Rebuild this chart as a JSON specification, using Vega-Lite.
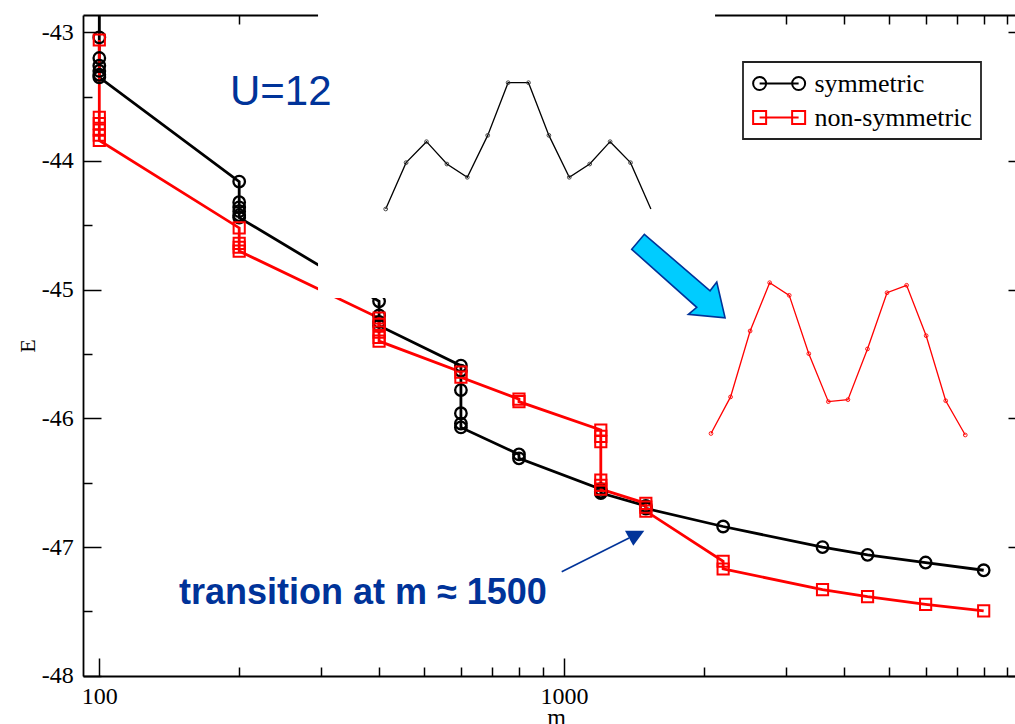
{
  "$schema": "https://vega.github.io/schema/vega-lite/v6.json",
  "autosize": {"type": "none"},
  "padding": {"left": 83, "top": 15, "right": 0, "bottom": 48},
  "width": 932,
  "height": 661,
  "background": "white",
  "config": {
    "view": {"stroke": null},
    "axis": {"grid": false, "zindex": 0, "labelFont": "Liberation Serif", "titleFont": "Liberation Serif", "labelColor": "black", "titleColor": "black", "domainColor": "black", "tickColor": "black", "domainWidth": 1.8, "tickWidth": 1.5, "labelFontSize": 24, "titleFontSize": 24, "titleFontWeight": "normal", "labelFlush": false, "labelOverlap": false},
    "legend": {"strokeWidth": 1.8}
  },
  "datasets": {
    "main": [
      {"series": "symmetric", "m": 100, "E": -42.5, "k": 1},
      {"series": "symmetric", "m": 100, "E": -43.04, "k": 2},
      {"series": "symmetric", "m": 100, "E": -43.2, "k": 3},
      {"series": "symmetric", "m": 100, "E": -43.26, "k": 4},
      {"series": "symmetric", "m": 100, "E": -43.3, "k": 5},
      {"series": "symmetric", "m": 100, "E": -43.33, "k": 6},
      {"series": "symmetric", "m": 100, "E": -43.35, "k": 7},
      {"series": "symmetric", "m": 200, "E": -44.16, "k": 8},
      {"series": "symmetric", "m": 200, "E": -44.32, "k": 9},
      {"series": "symmetric", "m": 200, "E": -44.36, "k": 10},
      {"series": "symmetric", "m": 200, "E": -44.39, "k": 11},
      {"series": "symmetric", "m": 200, "E": -44.42, "k": 12},
      {"series": "symmetric", "m": 200, "E": -44.44, "k": 13},
      {"series": "symmetric", "m": 400, "E": -45.09, "k": 14},
      {"series": "symmetric", "m": 400, "E": -45.2, "k": 15},
      {"series": "symmetric", "m": 400, "E": -45.25, "k": 16},
      {"series": "symmetric", "m": 400, "E": -45.28, "k": 17},
      {"series": "symmetric", "m": 600, "E": -45.59, "k": 18},
      {"series": "symmetric", "m": 600, "E": -45.63, "k": 19},
      {"series": "symmetric", "m": 600, "E": -45.78, "k": 20},
      {"series": "symmetric", "m": 600, "E": -45.96, "k": 21},
      {"series": "symmetric", "m": 600, "E": -46.04, "k": 22},
      {"series": "symmetric", "m": 600, "E": -46.07, "k": 23},
      {"series": "symmetric", "m": 800, "E": -46.28, "k": 24},
      {"series": "symmetric", "m": 800, "E": -46.31, "k": 25},
      {"series": "symmetric", "m": 1200, "E": -46.55, "k": 26},
      {"series": "symmetric", "m": 1200, "E": -46.57, "k": 27},
      {"series": "symmetric", "m": 1200, "E": -46.58, "k": 28},
      {"series": "symmetric", "m": 1500, "E": -46.68, "k": 29},
      {"series": "symmetric", "m": 1500, "E": -46.7, "k": 30},
      {"series": "symmetric", "m": 2200, "E": -46.84, "k": 31},
      {"series": "symmetric", "m": 3600, "E": -47.0, "k": 32},
      {"series": "symmetric", "m": 4500, "E": -47.06, "k": 33},
      {"series": "symmetric", "m": 6000, "E": -47.12, "k": 34},
      {"series": "symmetric", "m": 8000, "E": -47.18, "k": 35},
      {"series": "non-symmetric", "m": 100, "E": -43.06, "k": 1},
      {"series": "non-symmetric", "m": 100, "E": -43.66, "k": 2},
      {"series": "non-symmetric", "m": 100, "E": -43.71, "k": 3},
      {"series": "non-symmetric", "m": 100, "E": -43.76, "k": 4},
      {"series": "non-symmetric", "m": 100, "E": -43.8, "k": 5},
      {"series": "non-symmetric", "m": 100, "E": -43.84, "k": 6},
      {"series": "non-symmetric", "m": 200, "E": -44.52, "k": 7},
      {"series": "non-symmetric", "m": 200, "E": -44.64, "k": 8},
      {"series": "non-symmetric", "m": 200, "E": -44.67, "k": 9},
      {"series": "non-symmetric", "m": 200, "E": -44.7, "k": 10},
      {"series": "non-symmetric", "m": 400, "E": -45.22, "k": 11},
      {"series": "non-symmetric", "m": 400, "E": -45.27, "k": 12},
      {"series": "non-symmetric", "m": 400, "E": -45.33, "k": 13},
      {"series": "non-symmetric", "m": 400, "E": -45.37, "k": 14},
      {"series": "non-symmetric", "m": 400, "E": -45.4, "k": 15},
      {"series": "non-symmetric", "m": 600, "E": -45.64, "k": 16},
      {"series": "non-symmetric", "m": 600, "E": -45.68, "k": 17},
      {"series": "non-symmetric", "m": 800, "E": -45.85, "k": 18},
      {"series": "non-symmetric", "m": 800, "E": -45.87, "k": 19},
      {"series": "non-symmetric", "m": 1200, "E": -46.09, "k": 20},
      {"series": "non-symmetric", "m": 1200, "E": -46.14, "k": 21},
      {"series": "non-symmetric", "m": 1200, "E": -46.18, "k": 22},
      {"series": "non-symmetric", "m": 1200, "E": -46.48, "k": 23},
      {"series": "non-symmetric", "m": 1200, "E": -46.52, "k": 24},
      {"series": "non-symmetric", "m": 1200, "E": -46.55, "k": 25},
      {"series": "non-symmetric", "m": 1500, "E": -46.66, "k": 26},
      {"series": "non-symmetric", "m": 1500, "E": -46.69, "k": 27},
      {"series": "non-symmetric", "m": 1500, "E": -46.72, "k": 28},
      {"series": "non-symmetric", "m": 2200, "E": -47.11, "k": 29},
      {"series": "non-symmetric", "m": 2200, "E": -47.17, "k": 30},
      {"series": "non-symmetric", "m": 3600, "E": -47.33, "k": 31},
      {"series": "non-symmetric", "m": 4500, "E": -47.385, "k": 32},
      {"series": "non-symmetric", "m": 6000, "E": -47.445, "k": 33},
      {"series": "non-symmetric", "m": 8000, "E": -47.495, "k": 34}
    ],
    "insetSym": [
      {"i": 1, "v": 0}, {"i": 2, "v": 0.367}, {"i": 3, "v": 0.533}, {"i": 4, "v": 0.356},
      {"i": 5, "v": 0.251}, {"i": 6, "v": 0.583}, {"i": 7, "v": 1.0}, {"i": 8, "v": 1.0},
      {"i": 9, "v": 0.583}, {"i": 10, "v": 0.251}, {"i": 11, "v": 0.356}, {"i": 12, "v": 0.533},
      {"i": 13, "v": 0.367}, {"i": 14, "v": 0}
    ],
    "insetNon": [
      {"i": 1, "v": 0.01}, {"i": 2, "v": 0.25}, {"i": 3, "v": 0.683}, {"i": 4, "v": 1.0},
      {"i": 5, "v": 0.917}, {"i": 6, "v": 0.534}, {"i": 7, "v": 0.219}, {"i": 8, "v": 0.232},
      {"i": 9, "v": 0.565}, {"i": 10, "v": 0.934}, {"i": 11, "v": 0.983}, {"i": 12, "v": 0.652},
      {"i": 13, "v": 0.225}, {"i": 14, "v": 0}
    ],
    "patch": [{"m1": 295.6, "m2": 2113.6, "E1": -45.065, "E2": -42.85}],
    "labelU": [{"m": 191.1, "E": -43.565, "text": "U=12"}],
    "labelT": [{"m": 148.4, "E": -47.442, "text": "transition at m ≈ 1500"}],
    "pointer": [{"m": 988.7, "E": -47.191, "m2": 1380.3, "E2": -46.929}],
    "pointerHead": [{"m": 1415.8, "E": -46.911}],
    "bigArrow": [{"m": 1759.7, "E": -44.925}]
  },
  "layer": [
    {
      "resolve": {"axis": {"x": "independent", "y": "independent"}},
      "layer": [
        {
          "data": {"name": "main"},
          "transform": [{"filter": "datum.series == 'symmetric'"}],
          "mark": {"type": "line", "strokeWidth": 2.8, "color": "#000000", "clip": true},
          "encoding": {
            "x": {"field": "m", "type": "quantitative",
                  "scale": {"type": "log", "domain": [92.24, 9343], "nice": false},
                  "axis": {"orient": "bottom", "values": [100, 1000], "tickSize": -18, "labelPadding": 26, "labelExpr": "'' + datum.value", "title": "m", "titleX": 473, "titleY": 48, "titleBaseline": "alphabetic", "titleAlign": "center"}},
            "y": {"field": "E", "type": "quantitative",
                  "scale": {"domain": [-48.0016, -42.8656], "nice": false, "zero": false},
                  "axis": {"orient": "left", "values": [-48, -47, -46, -45, -44, -43], "tickSize": -18, "labelPadding": 27.7, "labelBaseline": "middle", "labelExpr": "'-' + abs(datum.value)", "title": "E", "titleX": -56, "titleY": 330.5, "titleAngle": -90, "titleBaseline": "middle", "titleAlign": "center", "titleFontSize": 22}},
            "order": {"field": "k", "type": "quantitative"}
          }
        },
        {
          "data": {"name": "main"},
          "transform": [{"filter": "datum.series == 'non-symmetric'"}],
          "mark": {"type": "line", "strokeWidth": 2.8, "color": "#ff0000", "clip": true},
          "encoding": {
            "x": {"field": "m", "type": "quantitative", "axis": null},
            "y": {"field": "E", "type": "quantitative", "axis": null},
            "order": {"field": "k", "type": "quantitative"}
          }
        },
        {
          "data": {"name": "main"},
          "transform": [{"filter": "datum.series == 'symmetric'"}],
          "mark": {"type": "point", "shape": "circle", "size": 133, "filled": false, "color": "#000000", "strokeWidth": 2.3, "opacity": 1, "clip": true},
          "encoding": {
            "x": {"field": "m", "type": "quantitative",
                  "axis": {"orient": "top", "values": [100, 1000], "tickSize": -18, "labels": false, "title": null}},
            "y": {"field": "E", "type": "quantitative",
                  "axis": {"orient": "right", "values": [-48, -47, -46, -45, -44, -43], "tickSize": -7, "labels": false, "domain": false, "title": null}}
          }
        },
        {
          "data": {"name": "main"},
          "transform": [{"filter": "datum.series == 'non-symmetric'"}],
          "mark": {"type": "point", "shape": "square", "size": 125, "filled": false, "color": "#ff0000", "strokeWidth": 2, "opacity": 1, "clip": true},
          "encoding": {
            "x": {"field": "m", "type": "quantitative",
                  "axis": {"orient": "bottom", "values": [200, 300, 400, 500, 600, 700, 800, 900, 2000, 3000, 4000, 5000, 6000, 7000, 8000, 9000], "tickSize": -9, "labels": false, "domain": false, "title": null}},
            "y": {"field": "E", "type": "quantitative",
                  "axis": {"orient": "left", "values": [-47.5, -46.5, -45.5, -44.5, -43.5], "tickSize": -9, "labels": false, "domain": false, "title": null}}
          }
        },
        {
          "data": {"name": "main"},
          "mark": {"type": "point", "filled": false, "opacity": 0, "strokeWidth": 2, "size": 169},
          "encoding": {
            "x": {"field": "m", "type": "quantitative",
                  "axis": {"orient": "top", "values": [200, 300, 400, 500, 600, 700, 800, 900, 2000, 3000, 4000, 5000, 6000, 7000, 8000, 9000], "tickSize": -9, "labels": false, "domain": false, "title": null}},
            "y": {"field": "E", "type": "quantitative", "axis": null},
            "color": {"field": "series", "type": "nominal",
                      "scale": {"domain": ["symmetric", "non-symmetric"], "range": ["#000000", "#ff0000"]},
                      "legend": {"title": null, "orient": "none", "legendX": 660, "legendY": 47, "padding": 8.5, "strokeColor": "#222222", "fillColor": "white", "labelFont": "Liberation Serif", "labelFontSize": 26, "labelColor": "black", "labelOffset": 37, "labelLimit": 400, "symbolSize": 169, "symbolStrokeWidth": 2, "rowPadding": 8}},
            "shape": {"field": "series", "type": "nominal",
                      "scale": {"domain": ["symmetric", "non-symmetric"],
                                "range": ["M-1.75,0A1,1,0,1,0,0.25,0A1,1,0,1,0,-1.75,0M-0.75,0L5.25,0M4.25,0A1,1,0,1,0,6.25,0A1,1,0,1,0,4.25,0",
                                          "M-1.75,-1L0.25,-1L0.25,1L-1.75,1ZM-0.75,0L5.25,0M4.25,-1L6.25,-1L6.25,1L4.25,1Z"]},
                      "legend": {"title": null, "orient": "none", "legendX": 660, "legendY": 47, "padding": 8.5, "strokeColor": "#222222", "fillColor": "white", "labelFont": "Liberation Serif", "labelFontSize": 26, "labelColor": "black", "labelOffset": 37, "labelLimit": 400, "symbolSize": 169, "symbolStrokeWidth": 2, "rowPadding": 8}}
          }
        },
        {
          "data": {"name": "patch"},
          "mark": {"type": "rect", "color": "white"},
          "encoding": {
            "x": {"field": "m1", "type": "quantitative", "axis": null},
            "x2": {"field": "m2"},
            "y": {"field": "E1", "type": "quantitative", "axis": null},
            "y2": {"field": "E2"}
          }
        },
        {
          "data": {"name": "labelU"},
          "mark": {"type": "text", "font": "Liberation Sans", "fontSize": 42, "color": "#003399", "align": "left", "baseline": "alphabetic"},
          "encoding": {
            "x": {"field": "m", "type": "quantitative", "axis": null},
            "y": {"field": "E", "type": "quantitative", "axis": null},
            "text": {"field": "text"}
          }
        },
        {
          "data": {"name": "labelT"},
          "mark": {"type": "text", "font": "Liberation Sans", "fontSize": 36, "fontWeight": "bold", "color": "#003399", "align": "left", "baseline": "alphabetic"},
          "encoding": {
            "x": {"field": "m", "type": "quantitative", "axis": null},
            "y": {"field": "E", "type": "quantitative", "axis": null},
            "text": {"field": "text"}
          }
        },
        {
          "data": {"name": "pointer"},
          "mark": {"type": "rule", "color": "#003399", "strokeWidth": 1.6},
          "encoding": {
            "x": {"field": "m", "type": "quantitative", "axis": null},
            "x2": {"field": "m2"},
            "y": {"field": "E", "type": "quantitative", "axis": null},
            "y2": {"field": "E2"}
          }
        },
        {
          "data": {"name": "pointerHead"},
          "mark": {"type": "point", "shape": "M-9.2,-5L10.1,-5L-0.9,10Z", "size": 4, "filled": true, "color": "#003399", "opacity": 1},
          "encoding": {
            "x": {"field": "m", "type": "quantitative", "axis": null},
            "y": {"field": "E", "type": "quantitative", "axis": null}
          }
        },
        {
          "data": {"name": "bigArrow"},
          "mark": {"type": "point", "shape": "M-46.3,-30.7L-33.7,-45.7L32,10.7L38.7,2L47,37.7L10.3,34.3L18.7,27.3Z", "size": 4, "filled": true, "fill": "#00ccff", "stroke": "#003399", "strokeWidth": 1.6, "opacity": 1},
          "encoding": {
            "x": {"field": "m", "type": "quantitative", "axis": null},
            "y": {"field": "E", "type": "quantitative", "axis": null}
          }
        }
      ]
    },
    {
      "data": {"name": "insetSym"},
      "encoding": {
        "x": {"field": "i", "type": "quantitative", "scale": {"domain": [-13.838, 31.848], "nice": false, "zero": false}, "axis": null},
        "y": {"field": "v", "type": "quantitative", "scale": {"domain": [-3.6975, 1.536], "nice": false, "zero": false}, "axis": null}
      },
      "layer": [
        {"mark": {"type": "line", "color": "#000000", "strokeWidth": 1.3}},
        {"transform": [{"filter": "datum.i <= 13"}],
         "mark": {"type": "point", "shape": "circle", "size": 14, "filled": false, "color": "#333333", "strokeWidth": 0.9, "opacity": 1}}
      ]
    },
    {
      "data": {"name": "insetNon"},
      "encoding": {
        "x": {"field": "i", "type": "quantitative", "scale": {"domain": [-31.106, 16.542], "nice": false, "zero": false}, "axis": null},
        "y": {"field": "v", "type": "quantitative", "scale": {"domain": [-1.5824, 2.7577], "nice": false, "zero": false}, "axis": null}
      },
      "layer": [
        {"mark": {"type": "line", "color": "#ff0000", "strokeWidth": 1.3}},
        {"mark": {"type": "point", "shape": "circle", "size": 14, "filled": false, "color": "#ff0000", "strokeWidth": 0.9, "opacity": 1}}
      ]
    }
  ],
  "resolve": {"scale": {"x": "independent", "y": "independent"}}
}
